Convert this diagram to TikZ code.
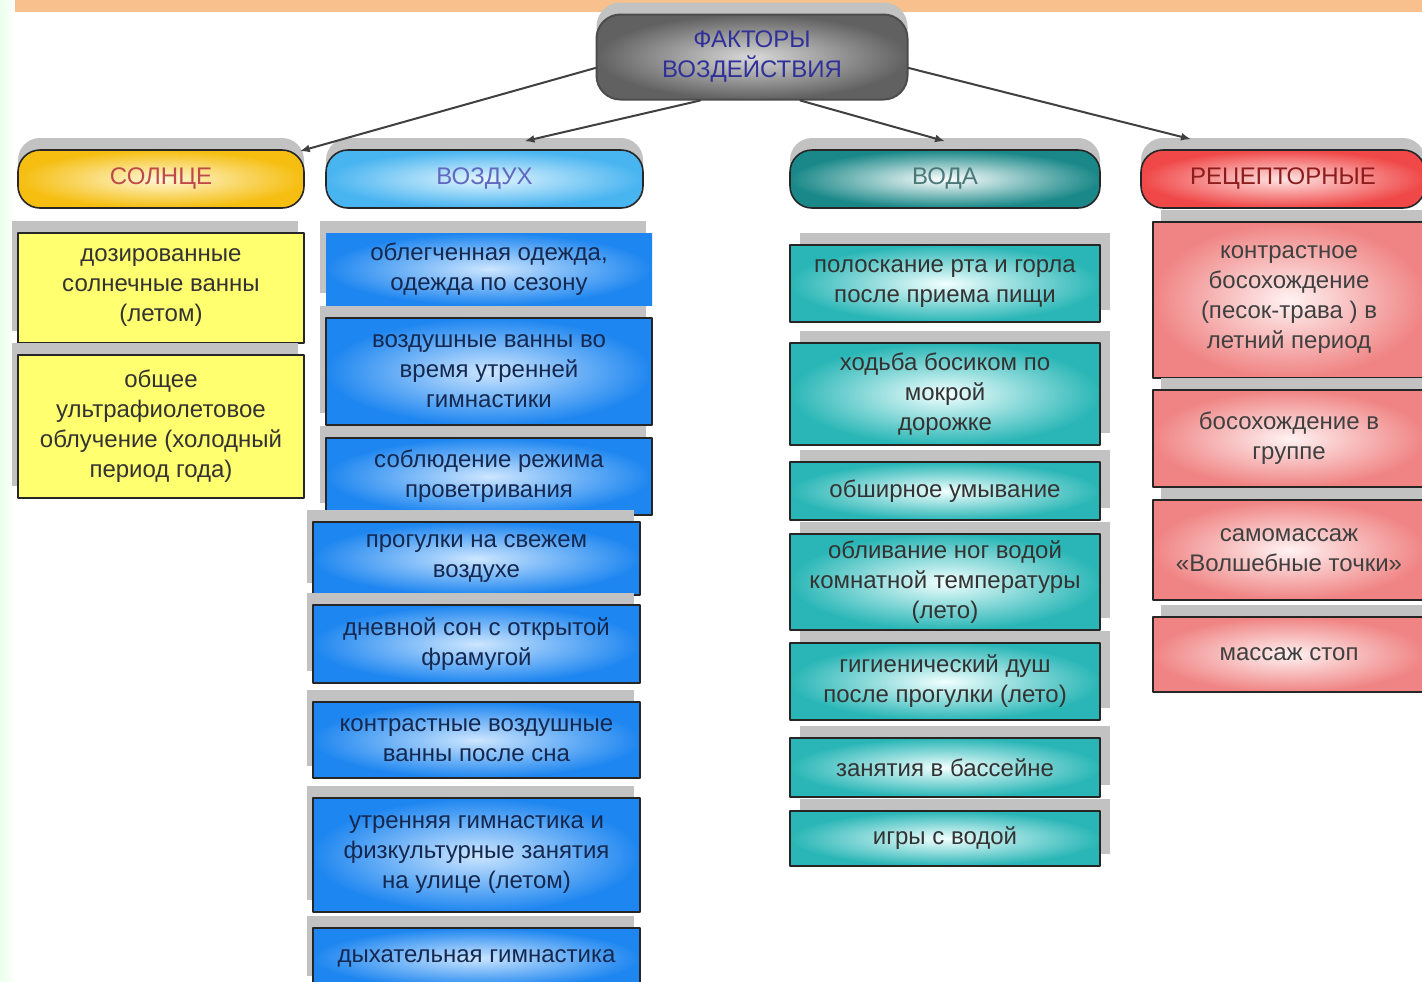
\documentclass[tikz,border=0pt]{standalone}
\usepackage{fontspec}
\setmainfont{Liberation Sans}
\usetikzlibrary{arrows.meta,shadows}

\definecolor{bandorange}{HTML}{F8C08C}
\definecolor{headtext}{HTML}{30309A}
\definecolor{sunout}{HTML}{F5BE10}
\definecolor{sunin}{HTML}{FFF8D8}
\definecolor{suntext}{HTML}{C04848}
\definecolor{sunfill}{HTML}{FFFF70}
\definecolor{airout}{HTML}{48B4F0}
\definecolor{airin}{HTML}{E4F6FF}
\definecolor{airtext}{HTML}{6068C0}
\definecolor{itemairout}{HTML}{1E86F0}
\definecolor{itemairin}{HTML}{CDE6FF}
\definecolor{itemairtext}{HTML}{142850}
\definecolor{waterout}{HTML}{1A8888}
\definecolor{waterin}{HTML}{FFFFFF}
\definecolor{watertext}{HTML}{4A7878}
\definecolor{itemwaterout}{HTML}{2AB6B6}
\definecolor{itemwaterin}{HTML}{F2FFFF}
\definecolor{recout}{HTML}{F04848}
\definecolor{recin}{HTML}{FFE4E4}
\definecolor{rectext}{HTML}{8C1C1C}
\definecolor{itemrecout}{HTML}{F08484}
\definecolor{itemrecin}{HTML}{FFF2F2}

\begin{document}
\begin{tikzpicture}[x=0.5pt,y=-0.5pt,line cap=round,line join=round,
  font=\fontsize{12}{15}\selectfont,
  box/.style={draw=black!85,line width=1pt,align=center,inner sep=2pt},
  shd/.style={drop shadow={shadow xshift=#1,shadow yshift=6pt,fill=black!24,opacity=1}},
  cat/.style={box,rounded corners=11pt,minimum height=29pt,line width=0.8pt,shd=0pt},
  sunbox/.style={box,fill=sunfill,text=black!80,minimum width=143pt,shd=-3pt},
  airbox/.style={box,inner color=itemairin,outer color=itemairout,text=itemairtext,shd=-3pt},
  waterbox/.style={box,inner color=itemwaterin,outer color=itemwaterout,text=black!80,minimum width=155pt,shd=5pt},
  recbox/.style={box,inner color=itemrecin,outer color=itemrecout,text=black!75,minimum width=136pt,shd=4pt},
  conn/.style={draw=black!75,line width=1pt,-{Latex[length=5pt,width=4pt]}}]
  \clip (0,0) rectangle (1422,981);
  \fill[white] (0,0) rectangle (1422,981);
  \fill[left color=green!8,right color=white] (0,0) rectangle (15,981);
  \fill[bandorange] (15,0) rectangle (1422,12);

  % top node
  \node[box,rounded corners=12pt,draw=black!70,inner color=black!15,outer color=black!62,
        text=headtext,minimum width=155.5pt,minimum height=42.5pt,shd=0pt] (factors) at (752,57)
    {ФАКТОРЫ\\ВОЗДЕЙСТВИЯ};

  % groups
  \node[cat,inner color=sunin,outer color=sunout,text=suntext,minimum width=143pt] (sun) at (161,179) {СОЛНЦЕ};
  \node[cat,inner color=airin,outer color=airout,text=airtext,minimum width=158.5pt] (air) at (484.5,179) {ВОЗДУХ};
  \node[cat,inner color=waterin,outer color=waterout,text=watertext,minimum width=155pt] (water) at (945,179) {ВОДА};
  \node[cat,inner color=recin,outer color=recout,text=rectext,minimum width=142pt] (rec) at (1283,179) {РЕЦЕПТОРНЫЕ};

  \draw[conn] (factors.184) -- ([xshift=-2.5pt,yshift=-1pt]sun.north east);
  \draw[conn] (factors.-140) -- ([xshift=20pt,yshift=4pt]air.north);
  \draw[conn] (factors.-42) -- ([yshift=4pt]water.north);
  \draw[conn] (factors.-4) -- ([xshift=-46pt,yshift=5pt]rec.north);

  % sun
  \node[sunbox,minimum height=55pt] (s1) at (161,288) {дозированные\\солнечные ванны\\(летом)};
  \node[sunbox,minimum height=71.5pt] (s2) at (161,426.5) {общее\\ультрафиолетовое\\облучение (холодный\\период года)};

  % air
  \node[airbox,draw=none,minimum width=163pt,minimum height=36pt] (a1) at (489,269) {облегченная одежда,\\одежда по сезону};
  \node[airbox,minimum width=163pt,minimum height=53.5pt] (a2) at (489,371.5) {воздушные ванны во\\время утренней\\гимнастики};
  \node[airbox,minimum width=163pt,minimum height=38.5pt] (a3) at (489,476.5) {соблюдение режима\\проветривания};
  \node[airbox,minimum width=163.5pt,minimum height=36.5pt] (a4) at (476.5,558.5) {прогулки на свежем\\воздухе};
  \node[airbox,minimum width=163.5pt,minimum height=39pt] (a5) at (476.5,644) {дневной сон с открытой\\фрамугой};
  \node[airbox,minimum width=163.5pt,minimum height=38pt] (a6) at (476.5,740) {контрастные воздушные\\ванны после сна};
  \node[airbox,minimum width=163.5pt,minimum height=57pt] (a7) at (476.5,855) {утренняя гимнастика и\\физкультурные занятия\\на улице (летом)};
  \node[airbox,minimum width=163.5pt,minimum height=30pt] (a8) at (476.5,958) {дыхательная гимнастика};

  % water
  \node[waterbox,minimum height=38.5pt] (w1) at (945,283.5) {полоскание рта и горла\\после приема пищи};
  \node[waterbox,minimum height=51pt] (w2) at (945,394) {ходьба босиком по\\мокрой\\дорожке};
  \node[waterbox,minimum height=29pt] (w3) at (945,491) {обширное умывание};
  \node[waterbox,minimum height=48pt] (w4) at (945,582) {обливание ног водой\\комнатной температуры\\(лето)};
  \node[waterbox,minimum height=38.5pt] (w5) at (945,681.5) {гигиенический душ\\после прогулки (лето)};
  \node[waterbox,minimum height=29.5pt] (w6) at (945,767.5) {занятия в бассейне};
  \node[waterbox,minimum height=27.5pt] (w7) at (945,838.5) {игры с водой};

  % receptor
  \node[recbox,minimum height=78pt] (r1) at (1289,300) {контрастное\\босохождение\\(песок-трава ) в\\летний период};
  \node[recbox,minimum height=48.5pt] (r2) at (1289,438.5) {босохождение в\\группе};
  \node[recbox,minimum height=50pt] (r3) at (1289,550) {самомассаж\\«Волшебные точки»};
  \node[recbox,minimum height=37.5pt] (r4) at (1289,654.5) {массаж стоп};
\end{tikzpicture}
\end{document}
